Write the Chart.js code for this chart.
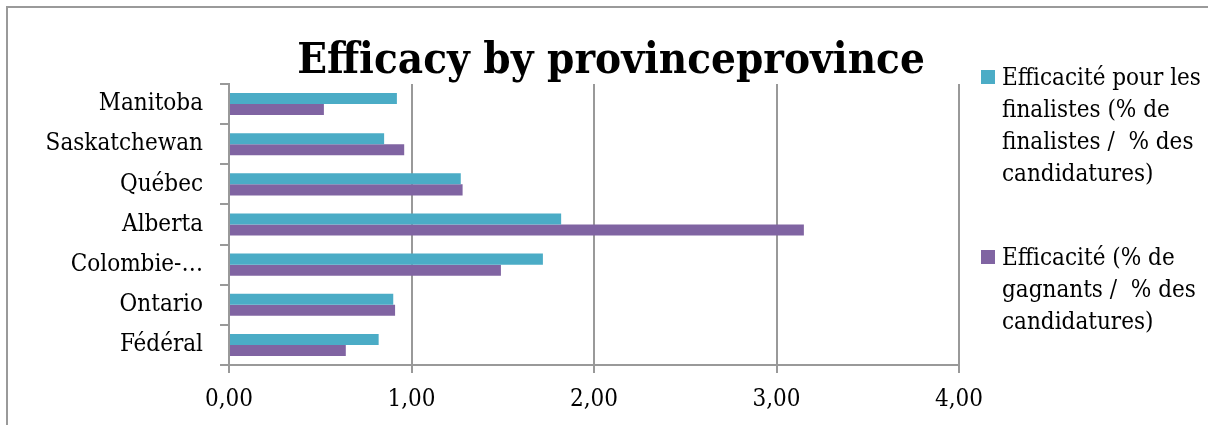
<!DOCTYPE html>
<html>
<head>
<meta charset="utf-8">
<script src="https://cdn.jsdelivr.net/npm/chart.js@4.4.0/dist/chart.umd.min.js"></script>
<style>
    html, body { margin: 0; padding: 0; background: #fff; }
    canvas { display: block; }
</style>
</head>
<body>
<canvas id="myChart" width="1208" height="425"></canvas>
<script>
// data
const provinces = ['Manitoba', 'Saskatchewan', 'Québec', 'Alberta', 'Colombie-…', 'Ontario', 'Fédéral'];
const finalistesValues = [0.92, 0.85, 1.27, 1.82, 1.72, 0.90, 0.82];
const gagnantsValues = [0.52, 0.96, 1.28, 3.15, 1.49, 0.91, 0.64];
const xTicks = [0, 1, 2, 3, 4];
const chartTitle = 'Efficacy by provinceprovince';
const finalistesLabel = ['Efficacité pour les', 'finalistes (% de', 'finalistes /  % des', 'candidatures)'];
const gagnantsLabel = ['Efficacité (% de', 'gagnants /  % des', 'candidatures)'];

const FONT = "'DejaVu Serif Condensed', 'DejaVu Serif', serif";
const GRID = '#999999';

// outer frame of the chart
const framePlugin = {
    id: 'frame',
    beforeDraw(chart) {
        const ctx = chart.ctx;
        ctx.save();
        ctx.strokeStyle = '#9a9a9a';
        ctx.lineWidth = 2;
        ctx.strokeRect(7, 7, 1400, 600);
        ctx.restore();
    }
};

// title is drawn by hand so it can sit off the canvas centre like the original
const titlePlugin = {
    id: 'customTitle',
    afterDraw(chart) {
        const ctx = chart.ctx;
        ctx.save();
        ctx.font = 'bold 43.5px ' + FONT;
        ctx.fillStyle = '#000';
        ctx.textAlign = 'center';
        ctx.textBaseline = 'alphabetic';
        ctx.fillText(chartTitle, 611, 73);
        ctx.restore();
    }
};

// legend with wrapped labels on the right
const legendPlugin = {
    id: 'wrappedLegend',
    afterDraw(chart) {
        const ctx = chart.ctx;
        const firstBaselines = [85, 265];
        ctx.save();
        ctx.font = '24px ' + FONT;
        ctx.textAlign = 'left';
        ctx.textBaseline = 'alphabetic';
        chart.data.datasets.forEach((ds, i) => {
            const y0 = firstBaselines[i];
            ctx.fillStyle = ds.backgroundColor;
            ctx.fillRect(981, y0 - 15, 14, 14);
            ctx.fillStyle = '#000';
            ds.legendLines.forEach((line, j) => {
                ctx.fillText(line, 1002, y0 + j * 32);
            });
        });
        ctx.restore();
    }
};

const ctx = document.getElementById('myChart').getContext('2d');
new Chart(ctx, {
    type: 'bar',
    data: {
        labels: provinces,
        datasets: [
            {
                label: finalistesLabel.join(' '),
                legendLines: finalistesLabel,
                data: finalistesValues,
                backgroundColor: '#4bacc6',
                borderWidth: 0
            },
            {
                label: gagnantsLabel.join(' '),
                legendLines: gagnantsLabel,
                data: gagnantsValues,
                backgroundColor: '#8064a2',
                borderWidth: 0
            }
        ]
    },
    options: {
        indexAxis: 'y',
        responsive: false,
        animation: false,
        categoryPercentage: 0.55,
        barPercentage: 1.0,
        layout: {
            padding: { top: 84, right: 249, left: 0, bottom: 0 }
        },
        plugins: {
            legend: { display: false },
            title: { display: false },
            tooltip: { enabled: false }
        },
        scales: {
            x: {
                min: 0,
                max: 4,
                afterBuildTicks: scale => { scale.ticks = xTicks.map(v => ({ value: v })); },
                afterFit: scale => { scale.height = 60; },
                grid: { color: GRID, lineWidth: 2, tickLength: 8 },
                border: { color: GRID, width: 2 },
                ticks: {
                    color: '#000',
                    padding: 12,
                    font: { family: FONT, size: 24 },
                    callback: v => v.toFixed(2).replace('.', ',')
                }
            },
            y: {
                afterFit: scale => { scale.width = 229; },
                grid: { offset: true, drawOnChartArea: false, color: GRID, lineWidth: 2, tickLength: 9 },
                border: { color: GRID, width: 2 },
                ticks: {
                    color: '#000',
                    padding: 17,
                    autoSkip: false,
                    font: { family: FONT, size: 24 }
                }
            }
        }
    },
    plugins: [framePlugin, titlePlugin, legendPlugin]
});
</script>
</body>
</html>
